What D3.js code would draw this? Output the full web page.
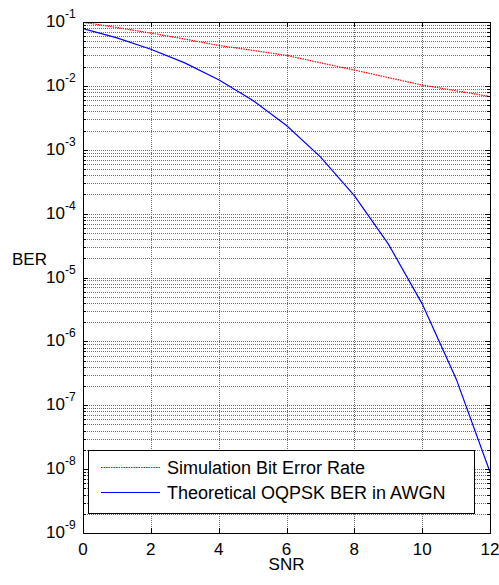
<!DOCTYPE html>
<html>
<head>
<meta charset="utf-8">
<script src="https://cdn.jsdelivr.net/npm/d3@7"></script>
<style>
  body { margin: 0; background: #fff; }
  text { font-family: "Liberation Sans", Arial, sans-serif; fill: #000; }
</style>
</head>
<body>
<svg id="chart"></svg>
<script>
// SNR values (dB)
var snr = [0, 1, 2, 3, 4, 5, 6, 7, 8, 9, 10, 11, 12];
// simulated BER (red dotted)
var simBer = [0.099, 0.082, 0.067, 0.054, 0.043, 0.036, 0.030, 0.023, 0.0177, 0.0135, 0.0103, 0.0084, 0.0068];
// theoretical OQPSK BER in AWGN (blue)
var theoBer = [0.0786, 0.0563, 0.0375, 0.0229, 0.0125, 0.00595, 0.00239, 0.000773, 0.000191, 0.0000336, 0.00000387, 0.000000261, 0.000000009];

var xTicks = [0, 2, 4, 6, 8, 10, 12];
var yExps = [-1, -2, -3, -4, -5, -6, -7, -8, -9];
var legendLabels = ["Simulation Bit Error Rate", "Theoretical OQPSK BER in AWGN"];

var W = 499, H = 585;
var pLeft = 83, pRight = 490, pTop = 22, pBottom = 533;

var svg = d3.select("#chart")
    .attr("width", W)
    .attr("height", H);

var xScale = d3.scaleLinear()
    .domain([0, 12])
    .range([pLeft, pRight]);

var yScale = d3.scaleLog()
    .domain([1e-9, 1e-1])
    .range([pBottom, pTop]);

// minor values 2..9 x 10^k
var minorVals = [];
yExps.forEach(function(e) {
    if (e == -1) return;
    for (var m = 2; m <= 9; m++) minorVals.push(m * Math.pow(10, e));
});
var majorVals = yExps.map(function(e) { return Math.pow(10, e); });

// grid
var grid = svg.append("g")
    .attr("stroke", "#6e6e6e")
    .attr("stroke-width", 1)
    .attr("stroke-dasharray", "1,1");

grid.selectAll(".hg")
    .data(majorVals.concat(minorVals))
    .enter().append("line")
    .attr("x1", pLeft).attr("x2", pRight)
    .attr("y1", function(d) { return Math.round(yScale(d)) + 0.5; })
    .attr("y2", function(d) { return Math.round(yScale(d)) + 0.5; });

grid.selectAll(".vg")
    .data(xTicks)
    .enter().append("line")
    .attr("y1", pTop).attr("y2", pBottom)
    .attr("x1", function(d) { return Math.round(xScale(d)) + 0.5; })
    .attr("x2", function(d) { return Math.round(xScale(d)) + 0.5; });

// clip for lines
svg.append("clipPath").attr("id", "clip")
    .append("rect")
    .attr("x", pLeft).attr("y", pTop)
    .attr("width", pRight - pLeft).attr("height", pBottom - pTop);

var line = d3.line()
    .x(function(d) { return xScale(d[0]); })
    .y(function(d) { return yScale(d[1]); });

svg.append("path")
    .datum(d3.zip(snr, theoBer))
    .attr("clip-path", "url(#clip)")
    .attr("d", line)
    .attr("fill", "none")
    .attr("stroke", "#0000ff")
    .attr("stroke-width", 1.2);

svg.append("path")
    .datum(d3.zip(snr, simBer))
    .attr("clip-path", "url(#clip)")
    .attr("d", line)
    .attr("fill", "none")
    .attr("stroke", "#ff0000")
    .attr("stroke-width", 1.2)
    .attr("stroke-dasharray", "1.5,1");

// ticks (inside, both sides)
var ticks = svg.append("g").attr("stroke", "#000").attr("stroke-width", 1);
majorVals.forEach(function(v) {
    var y = Math.round(yScale(v)) + 0.5;
    ticks.append("line").attr("x1", pLeft).attr("x2", pLeft + 5).attr("y1", y).attr("y2", y);
    ticks.append("line").attr("x1", pRight - 5).attr("x2", pRight).attr("y1", y).attr("y2", y);
});
minorVals.forEach(function(v) {
    var y = Math.round(yScale(v)) + 0.5;
    ticks.append("line").attr("x1", pLeft).attr("x2", pLeft + 3).attr("y1", y).attr("y2", y);
    ticks.append("line").attr("x1", pRight - 3).attr("x2", pRight).attr("y1", y).attr("y2", y);
});
xTicks.forEach(function(v) {
    var x = Math.round(xScale(v)) + 0.5;
    ticks.append("line").attr("x1", x).attr("x2", x).attr("y1", pBottom).attr("y2", pBottom - 5);
    ticks.append("line").attr("x1", x).attr("x2", x).attr("y1", pTop).attr("y2", pTop + 5);
});

// box
svg.append("rect")
    .attr("x", pLeft + 0.5).attr("y", pTop + 0.5)
    .attr("width", pRight - pLeft).attr("height", pBottom - pTop)
    .attr("fill", "none")
    .attr("stroke", "#000")
    .attr("stroke-width", 1);

// x tick labels
svg.selectAll(".xl")
    .data(xTicks)
    .enter().append("text")
    .attr("x", function(d) { return xScale(d); })
    .attr("y", pBottom + 22)
    .attr("text-anchor", "middle")
    .style("font-size", "17px")
    .text(function(d) { return d; });

// y tick labels 10^e
var yl = svg.selectAll(".yl")
    .data(yExps)
    .enter().append("text")
    .attr("x", 46)
    .attr("y", function(d) { return yScale(Math.pow(10, d)) + 5; })
    .style("font-size", "17px");
yl.append("tspan").text("10");
yl.append("tspan")
    .attr("dy", -9)
    .style("font-size", "12px")
    .text(function(d) { return "-" + (-d); });

// axis labels
svg.append("text")
    .attr("x", (pLeft + pRight) / 2)
    .attr("y", 570)
    .attr("text-anchor", "middle")
    .style("font-size", "17px")
    .text("SNR");

svg.append("text")
    .attr("x", 12)
    .attr("y", 265)
    .style("font-size", "17px")
    .text("BER");

// legend
var lg = svg.append("g");
lg.append("rect")
    .attr("x", 88.5).attr("y", 450.5)
    .attr("width", 386).attr("height", 63)
    .attr("fill", "#fff")
    .attr("stroke", "#000")
    .attr("stroke-width", 1);

var legendColors = ["#ff0000", "#0000ff"];
var legendDash = ["1.5,1", null];
legendLabels.forEach(function(lab, i) {
    var y = 467 + i * 25;
    lg.append("line")
        .attr("x1", 101).attr("x2", 160)
        .attr("y1", y + 0.5).attr("y2", y + 0.5)
        .attr("stroke", legendColors[i])
        .attr("stroke-width", 1.2)
        .attr("stroke-dasharray", legendDash[i]);
    lg.append("text")
        .attr("x", 167)
        .attr("y", y + 7)
        .style("font-size", "18px")
        .text(lab);
});
</script>
</body>
</html>
